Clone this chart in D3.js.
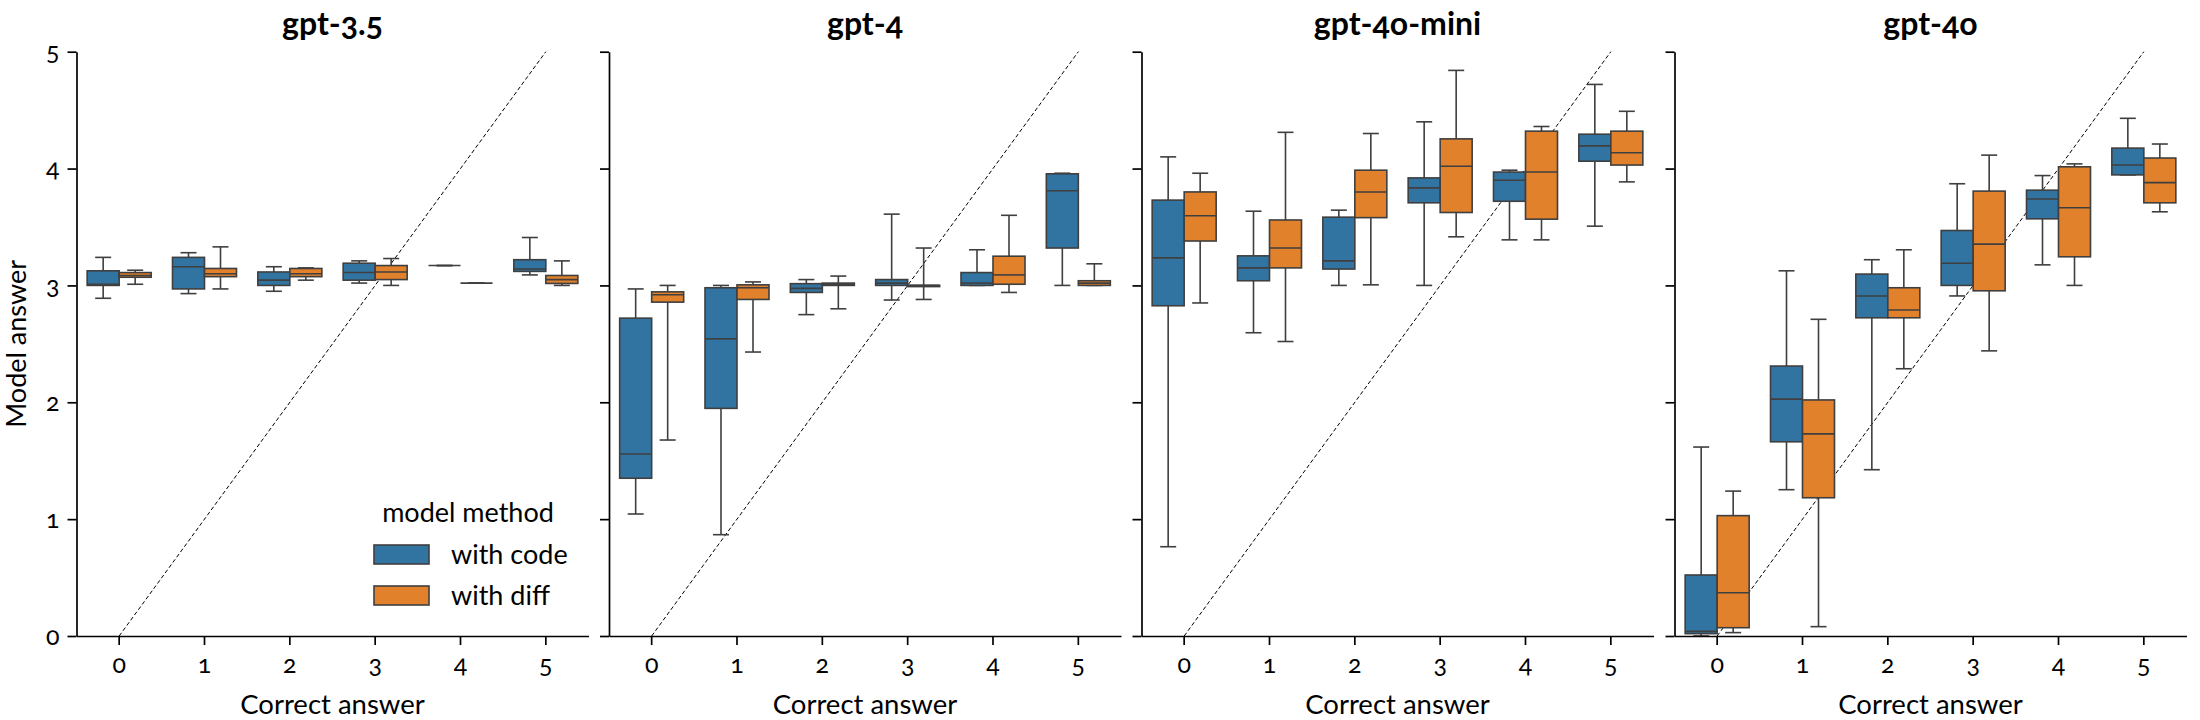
<!DOCTYPE html>
<html>
<head>
<meta charset="utf-8">
<script src="https://cdn.jsdelivr.net/npm/d3@7"></script>
<style>
  body { margin: 0; background: #fff; }
  svg text { font-family: Lato, "Open Sans", sans-serif; font-variant-numeric: oldstyle-nums; fill: #000; }
</style>
</head>
<body>
<div id="graph-container"></div>
<script>
const models = ["gpt-3.5", "gpt-4", "gpt-4o-mini", "gpt-4o"];
const categories = [0, 1, 2, 3, 4, 5];
const methods = ["with code", "with diff"];
const yTicks = [0, 1, 2, 3, 4, 5];

// [whisker low, q1, median, q3, whisker high] per correct answer
const gpt35Code = [[2.89, 3.0, 3.01, 3.125, 3.24], [2.93, 2.97, 3.16, 3.24, 3.28], [2.95, 3.0, 3.045, 3.115, 3.16], [3.02, 3.045, 3.11, 3.19, 3.21], [3.17, 3.17, 3.17, 3.17, 3.17], [3.09, 3.12, 3.14, 3.22, 3.41]];
const gpt35Diff = [[3.01, 3.07, 3.085, 3.11, 3.13], [2.97, 3.075, 3.1, 3.145, 3.33], [3.045, 3.075, 3.1, 3.145, 3.15], [3.0, 3.05, 3.115, 3.17, 3.23], [3.02, 3.02, 3.02, 3.02, 3.02], [3.0, 3.017, 3.05, 3.085, 3.21]];
const gpt4Code = [[1.044, 1.35, 1.557, 2.72, 2.97], [0.867, 1.948, 2.543, 2.98, 3.0], [2.75, 2.94, 2.975, 3.015, 3.05], [2.875, 3.0, 3.02, 3.05, 3.61], [3.0, 3.0, 3.02, 3.11, 3.305], [3.0, 3.32, 3.81, 3.955, 3.96]];
const gpt4Diff = [[1.677, 2.857, 2.92, 2.945, 3.0], [2.43, 2.88, 2.98, 3.005, 3.03], [2.8, 3.0, 3.01, 3.02, 3.08], [2.88, 2.99, 3.0, 3.0, 3.32], [2.94, 3.01, 3.09, 3.25, 3.6], [3.0, 3.0, 3.02, 3.04, 3.185]];
const gpt4oMiniCode = [[0.764, 2.826, 3.236, 3.73, 4.1], [2.595, 3.04, 3.15, 3.253, 3.635], [3.0, 3.14, 3.21, 3.584, 3.644], [3.0, 3.707, 3.835, 3.92, 4.4], [3.39, 3.72, 3.9, 3.97, 3.986], [3.507, 4.063, 4.194, 4.294, 4.72]];
const gpt4oMiniDiff = [[2.85, 3.38, 3.596, 3.8, 3.96], [2.52, 3.15, 3.32, 3.56, 4.31], [3.005, 3.58, 3.8, 3.986, 4.3], [3.416, 3.624, 4.02, 4.254, 4.84], [3.39, 3.567, 3.97, 4.32, 4.36], [3.886, 4.03, 4.135, 4.32, 4.49]];
const gpt4oCode = [[0.0, 0.02, 0.04, 0.522, 1.617], [1.252, 1.662, 2.027, 2.31, 3.125], [1.423, 2.723, 2.91, 3.097, 3.22], [2.91, 3.0, 3.19, 3.47, 3.87], [3.176, 3.57, 3.74, 3.815, 3.94], [3.946, 3.946, 4.03, 4.175, 4.43]];
const gpt4oDiff = [[0.029, 0.071, 0.37, 1.03, 1.24], [0.08, 1.183, 1.73, 2.02, 2.71], [2.287, 2.723, 2.79, 2.98, 3.305], [2.44, 2.954, 3.353, 3.807, 4.115], [3.0, 3.245, 3.664, 4.015, 4.04], [3.63, 3.707, 3.88, 4.09, 4.21]];

const boxData = {
  "gpt-3.5": [gpt35Code, gpt35Diff],
  "gpt-4": [gpt4Code, gpt4Diff],
  "gpt-4o-mini": [gpt4oMiniCode, gpt4oMiniDiff],
  "gpt-4o": [gpt4oCode, gpt4oDiff],
};

const colors = ["#3274a1", "#e1812c"];
const lineColor = "#3f3f3f";

const width = 2200;
const height = 720;
const panelLeft = [76.5, 609, 1141.5, 1674.5];
const panelTop = 51.7;
const panelW = 512;
const panelH = 584.3;

const svg = d3
  .select("#graph-container")
  .append("svg")
  .attr("width", width)
  .attr("height", height);

const y = d3.scaleLinear().domain([0, 5]).range([panelH, 0]);
const x = d3.scaleBand().domain(categories).range([0, panelW]).padding(0);
const step = x.bandwidth();
const xSub = d3.scaleBand().domain(methods).range([-0.375 * step, 0.375 * step]);
const xLin = d3.scaleLinear().domain([-0.5, 5.5]).range([0, panelW]);

models.forEach((m, pi) => {
  const g = svg
    .append("g")
    .attr("transform", `translate(${panelLeft[pi]},${panelTop})`);

  // diagonal y = x
  g.append("line")
    .attr("x1", xLin(0))
    .attr("y1", y(0))
    .attr("x2", xLin(5))
    .attr("y2", y(5))
    .attr("stroke", "#000")
    .attr("stroke-width", 1)
    .attr("stroke-dasharray", "4,2.5");

  //draw boxes
  methods.forEach((meth, mi) => {
    const stats = boxData[m][mi];
    const bw = xSub.bandwidth();
    const grp = g
      .selectAll(`g.box${mi}`)
      .data(stats)
      .enter()
      .append("g")
      .attr("class", `box${mi}`)
      .attr("transform", (d, i) => `translate(${x(categories[i]) + step / 2 + xSub(meth)},0)`);

    // whiskers
    grp.append("line")
      .attr("x1", bw / 2).attr("x2", bw / 2)
      .attr("y1", (d) => y(d[0])).attr("y2", (d) => y(d[1]))
      .attr("stroke", lineColor).attr("stroke-width", 1.6);
    grp.append("line")
      .attr("x1", bw / 2).attr("x2", bw / 2)
      .attr("y1", (d) => y(d[3])).attr("y2", (d) => y(d[4]))
      .attr("stroke", lineColor).attr("stroke-width", 1.6);
    // caps
    [0, 4].forEach((k) => {
      grp.append("line")
        .attr("x1", bw / 4).attr("x2", (bw * 3) / 4)
        .attr("y1", (d) => y(d[k])).attr("y2", (d) => y(d[k]))
        .attr("stroke", lineColor).attr("stroke-width", 1.6);
    });
    grp.append("rect")
      .attr("x", 0)
      .attr("width", bw)
      .attr("y", (d) => y(d[3]))
      .attr("height", (d) => Math.max(0, y(d[1]) - y(d[3])))
      .attr("fill", colors[mi])
      .attr("stroke", lineColor)
      .attr("stroke-width", 1.6);
    grp.append("line")
      .attr("x1", 0).attr("x2", bw)
      .attr("y1", (d) => y(d[2])).attr("y2", (d) => y(d[2]))
      .attr("stroke", lineColor).attr("stroke-width", 1.6);
  });

  // axes
  const yAxis = d3
    .axisLeft(y)
    .tickValues(yTicks)
    .tickSize(9)
    .tickSizeOuter(0)
    .tickPadding(8)
    .tickFormat(d3.format("d"));
  if (pi > 0) yAxis.tickFormat("");
  const ya = g.append("g").call(yAxis);
  const xa = g
    .append("g")
    .attr("transform", `translate(0,${panelH})`)
    .call(d3.axisBottom(x).tickSize(9).tickSizeOuter(0).tickPadding(10));

  [ya, xa].forEach((a) => {
    a.selectAll("path, line").attr("stroke", "#000").attr("stroke-width", 1.7);
    a.selectAll("text").attr("font-size", 25).style("font-family", "Lato, sans-serif");
  });

  xa.append("text")
    .attr("x", panelW / 2)
    .attr("y", 78)
    .attr("text-anchor", "middle")
    .attr("font-size", 27.5)
    .text("Correct answer");

  g.append("text")
    .attr("x", panelW / 2)
    .attr("y", -17)
    .attr("text-anchor", "middle")
    .attr("font-size", 32)
    .attr("font-weight", "bold")
    .text(m);
});

// y label
svg.append("text")
  .attr("transform", `translate(26,${panelTop + panelH / 2}) rotate(-90)`)
  .attr("text-anchor", "middle")
  .attr("font-size", 27)
  .text("Model answer");

// legend
const leg = svg.append("g").attr("transform", "translate(374,0)");
leg.append("text")
  .attr("x", 94)
  .attr("y", 522)
  .attr("text-anchor", "middle")
  .attr("font-size", 27)
  .text("model method");
methods.forEach((meth, i) => {
  leg.append("rect")
    .attr("x", 0)
    .attr("y", 545 + i * 41)
    .attr("width", 55)
    .attr("height", 19)
    .attr("fill", colors[i])
    .attr("stroke", lineColor)
    .attr("stroke-width", 1.6);
  leg.append("text")
    .attr("x", 77)
    .attr("y", 564 + i * 41)
    .attr("font-size", 27)
    .text(meth);
});
</script>
</body>
</html>
